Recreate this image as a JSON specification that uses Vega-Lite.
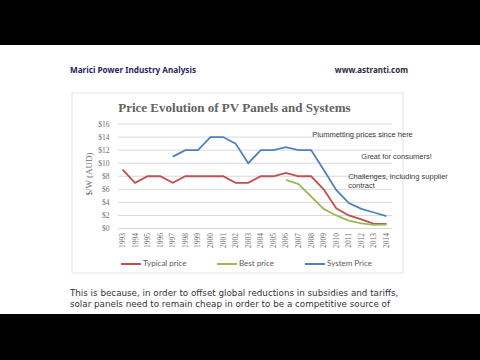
{
  "$schema": "https://vega.github.io/schema/vega-lite/v6.json",
  "width": 480,
  "height": 360,
  "autosize": {"type": "fit", "contains": "padding"},
  "padding": {"top": 45, "bottom": 46, "left": 0, "right": 0},
  "background": "#000000",
  "config": {"view": {"fill": "#ffffff", "stroke": null}},
  "resolve": {"axis": {"x": "independent", "y": "independent"}},
  "layer": [
    {
      "data": {"values": [{"gv": 0}, {"gv": 2}, {"gv": 4}, {"gv": 6}, {"gv": 8}, {"gv": 10}, {"gv": 12}, {"gv": 14}, {"gv": 16}]},
      "mark": {"type": "rule", "stroke": "#d9d9d9", "strokeWidth": 1},
      "encoding": {
        "y": {"field": "gv", "type": "quantitative", "axis": null},
        "x": {"datum": 1992.64, "type": "quantitative", "axis": null},
        "x2": {"datum": 2014.44}
      }
    },
    {
      "data": {"values": [{"frame": "chart"}]},
      "mark": {"type": "rect", "filled": false, "stroke": "#e2e2e2", "strokeWidth": 1},
      "encoding": {
        "x": {"datum": 1988.98, "type": "quantitative", "axis": null},
        "x2": {"datum": 2015.31},
        "y": {"datum": 20.75, "type": "quantitative", "axis": null},
        "y2": {"datum": -6.81}
      }
    },
    {
      "data": {"values": [
        {"year": 1993, "series": "Typical price", "price": 9.0},
        {"year": 1994, "series": "Typical price", "price": 7.0},
        {"year": 1995, "series": "Typical price", "price": 8.0},
        {"year": 1996, "series": "Typical price", "price": 8.0},
        {"year": 1997, "series": "Typical price", "price": 7.0},
        {"year": 1998, "series": "Typical price", "price": 8.0},
        {"year": 1999, "series": "Typical price", "price": 8.0},
        {"year": 2000, "series": "Typical price", "price": 8.0},
        {"year": 2001, "series": "Typical price", "price": 8.0},
        {"year": 2002, "series": "Typical price", "price": 7.0},
        {"year": 2003, "series": "Typical price", "price": 7.0},
        {"year": 2004, "series": "Typical price", "price": 8.0},
        {"year": 2005, "series": "Typical price", "price": 8.0},
        {"year": 2006, "series": "Typical price", "price": 8.5},
        {"year": 2007, "series": "Typical price", "price": 8.0},
        {"year": 2008, "series": "Typical price", "price": 8.0},
        {"year": 2009, "series": "Typical price", "price": 6.0},
        {"year": 2010, "series": "Typical price", "price": 3.1},
        {"year": 2011, "series": "Typical price", "price": 2.0},
        {"year": 2012, "series": "Typical price", "price": 1.4},
        {"year": 2013, "series": "Typical price", "price": 0.7},
        {"year": 2014, "series": "Typical price", "price": 0.7},
        {"year": 2006, "series": "Best price", "price": 7.45},
        {"year": 2007, "series": "Best price", "price": 6.8},
        {"year": 2008, "series": "Best price", "price": 4.9},
        {"year": 2009, "series": "Best price", "price": 3.0},
        {"year": 2010, "series": "Best price", "price": 2.0},
        {"year": 2011, "series": "Best price", "price": 1.2},
        {"year": 2012, "series": "Best price", "price": 0.8},
        {"year": 2013, "series": "Best price", "price": 0.55},
        {"year": 2014, "series": "Best price", "price": 0.6},
        {"year": 1997, "series": "System Price", "price": 11.0},
        {"year": 1998, "series": "System Price", "price": 12.0},
        {"year": 1999, "series": "System Price", "price": 12.0},
        {"year": 2000, "series": "System Price", "price": 14.0},
        {"year": 2001, "series": "System Price", "price": 14.0},
        {"year": 2002, "series": "System Price", "price": 13.0},
        {"year": 2003, "series": "System Price", "price": 10.0},
        {"year": 2004, "series": "System Price", "price": 12.0},
        {"year": 2005, "series": "System Price", "price": 12.0},
        {"year": 2006, "series": "System Price", "price": 12.45},
        {"year": 2007, "series": "System Price", "price": 12.0},
        {"year": 2008, "series": "System Price", "price": 12.0},
        {"year": 2009, "series": "System Price", "price": 9.0},
        {"year": 2010, "series": "System Price", "price": 5.9},
        {"year": 2011, "series": "System Price", "price": 3.9},
        {"year": 2012, "series": "System Price", "price": 3.0},
        {"year": 2013, "series": "System Price", "price": 2.45},
        {"year": 2014, "series": "System Price", "price": 1.9}
      ]},
      "mark": {"type": "line", "strokeWidth": 1.8},
      "encoding": {
        "x": {
          "field": "year", "type": "quantitative",
          "scale": {"domain": [1983.255, 2021.437], "nice": false, "zero": false},
          "axis": {
            "values": [1993,1994,1995,1996,1997,1998,1999,2000,2001,2002,2003,2004,2005,2006,2007,2008,2009,2010,2011,2012,2013,2014],
            "format": "d", "labelAngle": -90, "labelAlign": "right", "labelBaseline": "middle",
            "offset": -85.5, "domain": false, "ticks": false, "grid": false,
            "labelPadding": 4, "labelFont": "Liberation Serif", "labelFontSize": 7.5,
            "labelColor": "#6e6e6e", "labelFlush": false, "labelOverlap": false, "title": null
          }
        },
        "y": {
          "field": "price", "type": "quantitative",
          "scale": {"domain": [-13.09, 28.096], "nice": false, "zero": false},
          "axis": {
            "values": [0,2,4,6,8,10,12,14,16],
            "labelExpr": "'$' + datum.value",
            "offset": -118, "domain": false, "ticks": false, "grid": false,
            "labelPadding": 9, "labelFont": "Liberation Serif", "labelFontSize": 7.5,
            "labelColor": "#6e6e6e", "labelFlush": false, "labelOverlap": false,
            "title": "$/W (AUD)", "titleFont": "Liberation Serif", "titleFontSize": 9,
            "titleFontWeight": "normal", "titleColor": "#6e6e6e",
            "titleX": -30, "titleY": 128.5, "titleAngle": -90,
            "titleAlign": "center", "titleBaseline": "middle"
          }
        },
        "color": {
          "field": "series", "type": "nominal",
          "scale": {"domain": ["Typical price", "Best price", "System Price"], "range": ["#c0504d", "#9bbb59", "#4f81bd"]},
          "legend": {
            "title": null, "orient": "none", "direction": "horizontal",
            "legendX": 120, "legendY": 208,
            "symbolType": "stroke", "symbolSize": 400, "symbolStrokeWidth": 2,
            "labelFont": "Lato", "labelFontSize": 8, "labelColor": "#595959",
            "labelOffset": 1, "columnPadding": 26
          }
        }
      }
    },
    {
      "data": {"values": [
        {"year": 2008.1, "price": 14.3, "note": ["Plummetting prices since here"]},
        {"year": 2012.0, "price": 10.95, "note": ["Great for consumers!"]},
        {"year": 2010.95, "price": 7.9, "note": ["Challenges, including supplier", "contract"]}
      ]},
      "mark": {"type": "text", "align": "left", "baseline": "middle", "font": "Liberation Sans", "fontSize": 7.5, "color": "#3a3a3a", "lineHeight": 9.5},
      "encoding": {
        "x": {"field": "year", "type": "quantitative", "axis": null},
        "y": {"field": "price", "type": "quantitative", "axis": null},
        "text": {"field": "note"}
      }
    },
    {
      "data": {"values": [{"label": "Price Evolution of PV Panels and Systems"}]},
      "mark": {"type": "text", "align": "center", "baseline": "middle", "font": "Liberation Serif", "fontSize": 13, "fontWeight": "bold", "color": "#626262"},
      "encoding": {
        "x": {"datum": 2001.9, "type": "quantitative", "axis": null},
        "y": {"datum": 18.4, "type": "quantitative", "axis": null},
        "text": {"field": "label"}
      }
    },
    {
      "data": {"values": [{"label": "Marici Power Industry Analysis"}]},
      "mark": {"type": "text", "align": "left", "baseline": "middle", "font": "Noto Sans", "fontSize": 8.2, "fontWeight": "bold", "color": "#26265e"},
      "encoding": {
        "x": {"datum": 1988.82, "type": "quantitative", "axis": null},
        "y": {"datum": 24.12, "type": "quantitative", "axis": null},
        "text": {"field": "label"}
      }
    },
    {
      "data": {"values": [{"label": "www.astranti.com"}]},
      "mark": {"type": "text", "align": "right", "baseline": "middle", "font": "Noto Sans", "fontSize": 8, "fontWeight": "bold", "color": "#2b2b3b"},
      "encoding": {
        "x": {"datum": 2015.71, "type": "quantitative", "axis": null},
        "y": {"datum": 24.12, "type": "quantitative", "axis": null},
        "text": {"field": "label"}
      }
    },
    {
      "data": {"values": [{"label": ["This is because, in order to offset global reductions in subsidies and tariffs,", "solar panels need to remain cheap in order to be a competitive source of"]}]},
      "mark": {"type": "text", "align": "left", "baseline": "middle", "font": "DejaVu Sans", "fontSize": 8.75, "color": "#333333", "lineHeight": 11},
      "encoding": {
        "x": {"datum": 1988.82, "type": "quantitative", "axis": null},
        "y": {"datum": -9.85, "type": "quantitative", "axis": null},
        "text": {"field": "label"}
      }
    }
  ]
}
